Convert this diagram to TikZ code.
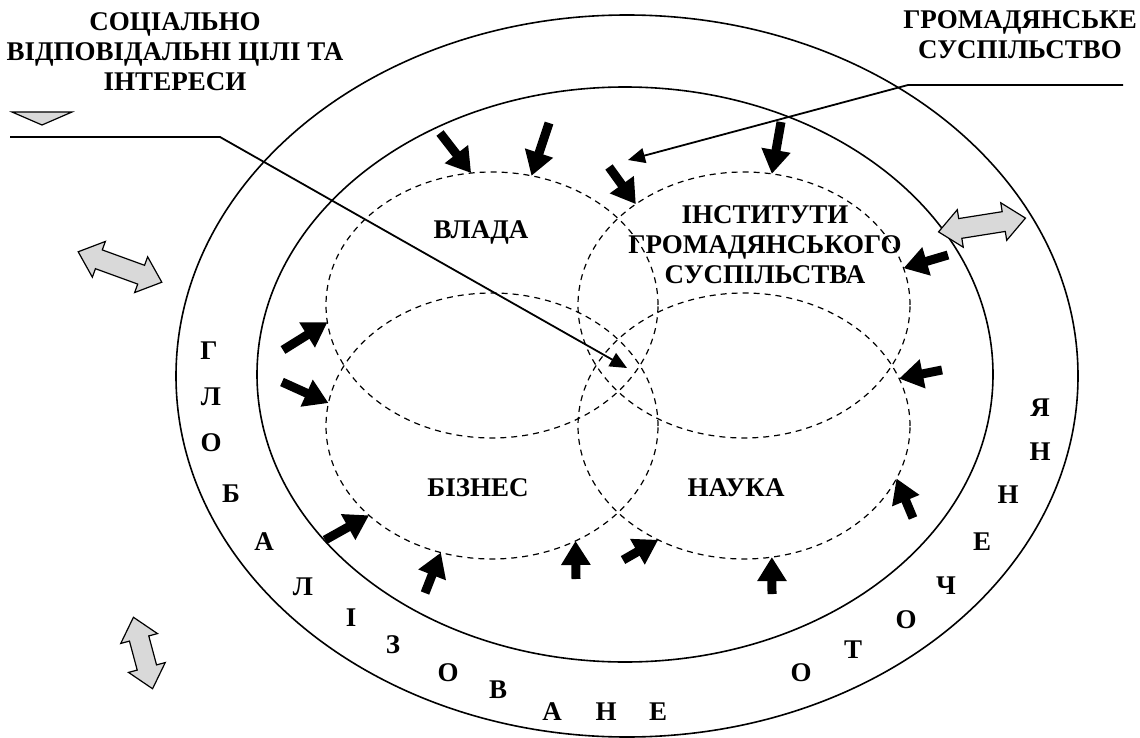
\documentclass[tikz,border=0pt]{standalone}
\usepackage{fontspec}
\setmainfont{Liberation Serif}
\definecolor{arrowgray}{HTML}{D9D9D9}
\usetikzlibrary{arrows.meta, shapes.geometric}

\tikzset{
  ring/.style={draw, ellipse, line width=0.8pt, inner sep=0pt, outer sep=0pt},
  sphere/.style={draw, ellipse, dash pattern=on 3pt off 2.5pt, line width=0.6pt,
    minimum width=166pt, minimum height=133pt, inner sep=0pt, outer sep=0pt},
  boldtext/.style={font=\fontsize{13.5}{15}\selectfont\bfseries, inner sep=0pt},
  pusharrow/.style={line width=4.5pt, -{Triangle[length=12pt, width=14pt]}},
  leader/.style={line width=0.9pt, -{Triangle[length=8.5pt, width=7.5pt]}},
  twoway/.style={draw, fill=arrowgray, line width=0.6pt},
}

% gray two-headed arrow: centre, angle, length
\newcommand{\twoway}[3]{%
  \begin{scope}[shift={#1}, rotate=#2]
    \pgfmathsetmacro{\hl}{#3/2}
    \draw[twoway] (-\hl,0) -- (-\hl+22,19) -- (-\hl+22,10) -- (\hl-22,10) -- (\hl-22,19)
      -- (\hl,0) -- (\hl-22,-19) -- (\hl-22,-10) -- (-\hl+22,-10) -- (-\hl+22,-19) -- cycle;
  \end{scope}}

\begin{document}
\begin{tikzpicture}[x=0.5pt, y=-0.5pt]
  \useasboundingbox (0,0) rectangle (1140,738);

  % environment rings
  \node[ring, minimum width=451pt, minimum height=361pt] (outerring) at (627,376) {};
  \node[ring, minimum width=368pt, minimum height=287.5pt] (innerring) at (625,374.5) {};

  % four spheres
  \node[sphere] (vlada) at (492,305) {};
  \node[sphere] (inst) at (744,305) {};
  \node[sphere] (biznes) at (492,426) {};
  \node[sphere] (nauka) at (744,426) {};

  \node[boldtext] (vladatext) at (481,232) {ВЛАДА};
  \node[boldtext, align=center] (insttext) at (765,245) {ІНСТИТУТИ\\ГРОМАДЯНСЬКОГО\\СУСПІЛЬСТВА};
  \node[boldtext] (biznestext) at (478,488) {БІЗНЕС};
  \node[boldtext] (naukatext) at (736,488) {НАУКА};

  % outside labels
  \node[boldtext, align=center] (goals) at (175,52) {СОЦІАЛЬНО\\ВІДПОВІДАЛЬНІ ЦІЛІ ТА\\ІНТЕРЕСИ};
  \node[boldtext, align=center] (society) at (1020,35) {ГРОМАДЯНСЬКЕ\\СУСПІЛЬСТВО};

  \coordinate (goalsend) at (10,137);
  \coordinate (goalsbend) at (220,137);
  \coordinate (core) at (627,368);
  \draw[leader] (goalsend) -- (goalsbend) -- (core);
  \coordinate (societyend) at (1123,85);
  \coordinate (societybend) at (908,85);
  \coordinate (societytip) at (628,160);
  \draw[leader] (societyend) -- (societybend) -- (societytip);
  \draw[twoway] (12,112) -- (72,112) -- (42,125) -- cycle;

  % pressure of the environment
  \foreach \tx/\ty/\target [count=\i] in {440/133/vlada.99, 549/123/vlada.73,
      609/167/inst.137, 781/122/inst.78, 948/255/inst.13, 942/370/nauka.17,
      913/518/nauka.341, 283/350/vlada.186, 282/382/biznes.172, 325/540/biznes.216,
      425/593/biznes.248, 576/579/biznes.306, 623/560/nauka.233, 772/594/nauka.282}
  {
    \coordinate (force\i) at (\tx,\ty);
    \draw[pusharrow] (force\i) -- (\target);
  }

  % letters round the ring
  \foreach \ch/\x/\y [count=\i] in {Г/209/351, Л/211/397, О/211/443, Б/231/494,
      А/264/542, Л/303/587, І/351/618, З/393/645, О/448/673, В/498/690, А/552/712,
      Н/606/712, Е/658/712, О/801/673, Т/853/650, О/906/620, Ч/946/586, Е/982/542,
      Н/1008/495, Н/1040/452, Я/1040/408}
    \node[boldtext] (letter\i) at (\x,\y) {\ch};

  \twoway{(120,267)}{-20}{89}
  \twoway{(982,225)}{9}{88}
  \twoway{(143,653)}{-75}{74}
\end{tikzpicture}
\end{document}
